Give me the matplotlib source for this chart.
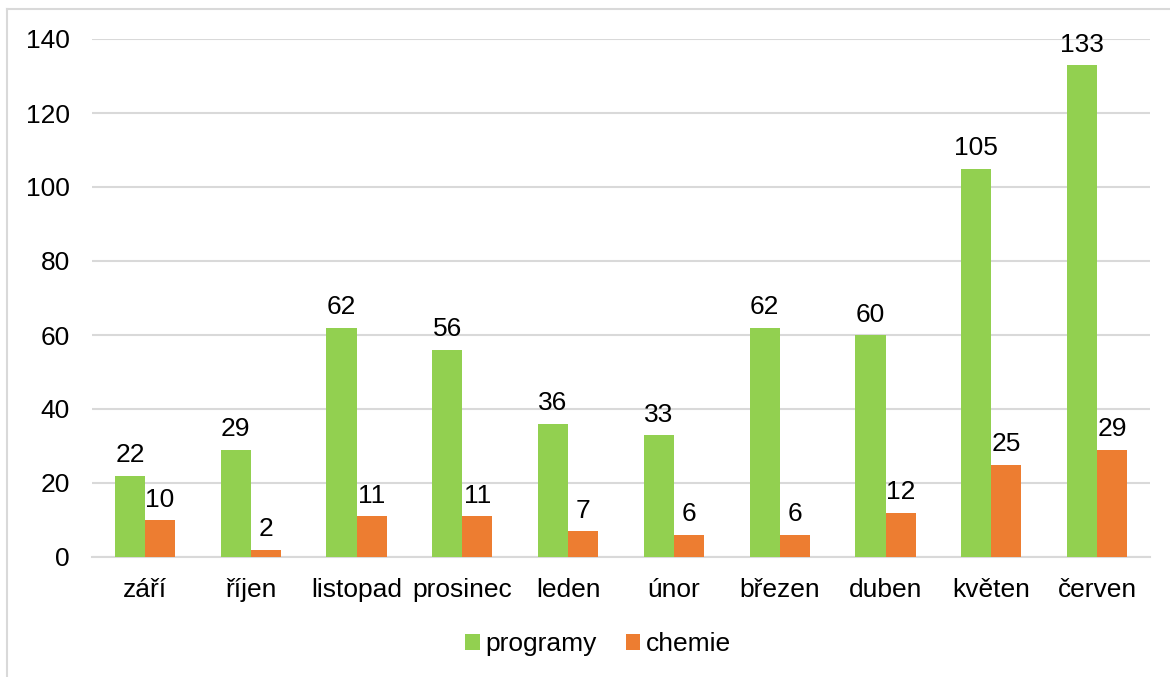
import matplotlib
matplotlib.use("Agg")
import matplotlib.pyplot as plt
import numpy as np
from matplotlib.lines import Line2D

months = ["září", "říjen", "listopad", "prosinec", "leden", "únor", "březen", "duben", "květen", "červen"]
programy = [22, 29, 62, 56, 36, 33, 62, 60, 105, 133]
chemie = [10, 2, 11, 11, 7, 6, 6, 12, 25, 29]
yticks = [0, 20, 40, 60, 80, 100, 120, 140]

plt.rcParams['font.family'] = ['Liberation Sans', 'DejaVu Sans']
FS = 19

W, H = 1170, 677
fig = plt.figure(figsize=(W / 100, H / 100), dpi=100)
ax = fig.add_axes([92 / W, 1 - 557 / H, (1150 - 92) / W, (557 - 39) / H])

x = np.arange(len(months))
w = 0.284
green = "#92D050"
orange = "#ED7D31"
b1 = ax.bar(x - w / 2, programy, w, color=green, label="programy", zorder=3)
b2 = ax.bar(x + w / 2, chemie, w, color=orange, label="chemie", zorder=3)

for bars, vals in ((b1, programy), (b2, chemie)):
    for r, v in zip(bars, vals):
        ax.annotate(str(v), (r.get_x() + r.get_width() / 2, v), xytext=(0, 6),
                    textcoords="offset points", ha="center", va="bottom",
                    fontsize=FS, color="#000000", clip_on=False, zorder=4)

ax.set_xlim(-0.5, len(months) - 0.5)
ax.set_ylim(0, 140)
ax.set_yticks(yticks)
ax.set_xticks(x)
ax.set_xticklabels(months)
ax.tick_params(axis="both", length=0, labelsize=FS, colors="#000000")
ax.tick_params(axis="y", pad=16)
ax.tick_params(axis="x", pad=15)
ax.grid(axis="y", color="#D9D9D9", linewidth=1.5, zorder=0)
for s in ["top", "right", "left"]:
    ax.spines[s].set_visible(False)
ax.spines["bottom"].set_color("#D9D9D9")
ax.spines["bottom"].set_linewidth(1.5)

leg = fig.legend(handles=[b1, b2], labels=["programy", "chemie"], loc="center",
                 bbox_to_anchor=(598 / W, 1 - 644 / H), ncol=2, frameon=False,
                 fontsize=FS, handlelength=0.55, handleheight=0.55, handletextpad=0.2,
                 columnspacing=1.1)

# outer frame (top & left visible)
fig.add_artist(Line2D([7 / W, 1.0], [1 - 9 / H, 1 - 9 / H], color="#D9D9D9", linewidth=1.5,
                      transform=fig.transFigure))
fig.add_artist(Line2D([7 / W, 7 / W], [0, 1 - 9 / H], color="#D9D9D9", linewidth=1.5,
                      transform=fig.transFigure))

fig.savefig("out.png", dpi=100, facecolor="white")
